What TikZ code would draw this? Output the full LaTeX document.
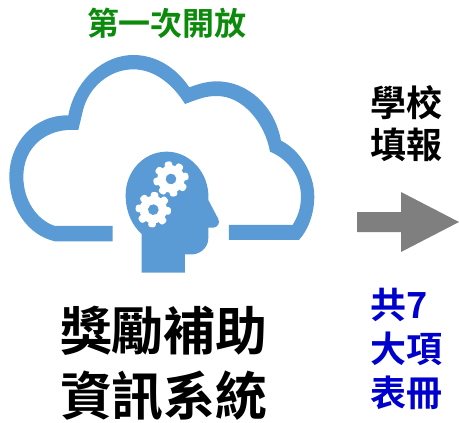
\documentclass[tikz,border=0pt]{standalone}
\usepackage{fontspec}
\setmainfont{Liberation Sans}
\newfontfamily\cjk{Noto Sans CJK TC}[BoldFont={Noto Sans CJK TC Bold}]
\definecolor{cloudblue}{HTML}{5B9BD5}
\definecolor{titlegreen}{HTML}{0B8A0B}
\definecolor{noteblue}{HTML}{0000CC}
\definecolor{arrowgray}{HTML}{7F7F7F}
\tikzset{
  label text/.style={inner sep=0pt,anchor=center,align=center,font=\cjk\bfseries},
  gear part/.style={fill=white,draw=none},
}
\newcommand{\gearshape}[3]{%
  \begin{scope}[shift={(#1,#2)},rotate=#3]
    \fill[gear part] (0,0) circle[radius=41];
    \foreach \a in {0,45,...,315}{
      \fill[gear part,rounded corners=2.5pt,rotate=\a] (-13,0) -- (-11,53) -- (11,53) -- (13,0) -- cycle;
    }
    \fill[cloudblue] (0,0) circle[radius=16];
  \end{scope}}
\begin{document}
\begin{tikzpicture}[x=1pt,y=-1pt]
\useasboundingbox (0,0) rectangle (459,423);
\begin{scope}[shift={(0,40)},x=0.3333pt,y=-0.3333pt]
  \fill[cloudblue] (338,604) -- (165,604)
    .. controls (80,585) and (28,500) .. (28,410)
    .. controls (28,310) and (100,225) .. (205,226)
    .. controls (225,120) and (310,45) .. (400,45)
    .. controls (470,45) and (530,85) .. (568,142)
    .. controls (600,130) and (625,124) .. (650,124)
    .. controls (745,124) and (825,200) .. (843,302)
    .. controls (900,330) and (943,400) .. (943,470)
    .. controls (943,520) and (925,570) .. (897,600)
    -- (687,600) -- (687,555) -- (878,555)
    .. controls (893,530) and (903,505) .. (903,470)
    .. controls (903,415) and (870,360) .. (810,335)
    .. controls (795,250) and (730,168) .. (650,168)
    .. controls (620,168) and (600,175) .. (555,192)
    .. controls (520,135) and (465,88) .. (400,88)
    .. controls (330,88) and (265,140) .. (248,215)
    -- (235,270)
    .. controls (140,262) and (70,320) .. (70,410)
    .. controls (70,480) and (110,540) .. (165,558)
    -- (338,558) -- cycle;
  \fill[cloudblue] (425,698) -- (555,698) -- (555,643) -- (580,643)
    .. controls (605,640) and (625,620) .. (625,595)
    -- (625,563) -- (640,563)
    .. controls (652,563) and (661,550) .. (655,537)
    -- (625,480) -- (625,460)
    .. controls (620,390) and (565,335) .. (500,335)
    .. controls (430,335) and (377,395) .. (377,465)
    .. controls (377,515) and (395,555) .. (425,582) -- cycle;
  \gearshape{513}{417}{10}
  \gearshape{460}{509}{-5}
\end{scope}
\fill[arrowgray] (357,212) -- (401,212) -- (401,192) -- (459,222) -- (401,252) -- (401,232) -- (357,232) -- cycle;
\node[label text,text=titlegreen,font=\cjk\bfseries\fontsize{32}{32}\selectfont] (title) at (167,23) {第一次開放};
\node[label text,font=\cjk\bfseries\fontsize{52}{65}\selectfont] (sys) at (164,363) {獎勵補助\\資訊系統};
\node[label text,font=\cjk\bfseries\fontsize{36}{42}\selectfont] (school) at (406,124) {學校\\填報};
\node[label text,text=noteblue,font=\cjk\bfseries\fontsize{36}{44}\selectfont,align=left] (forms) at (406,349) {共7\\大項\\表冊};
\end{tikzpicture}
\end{document}
